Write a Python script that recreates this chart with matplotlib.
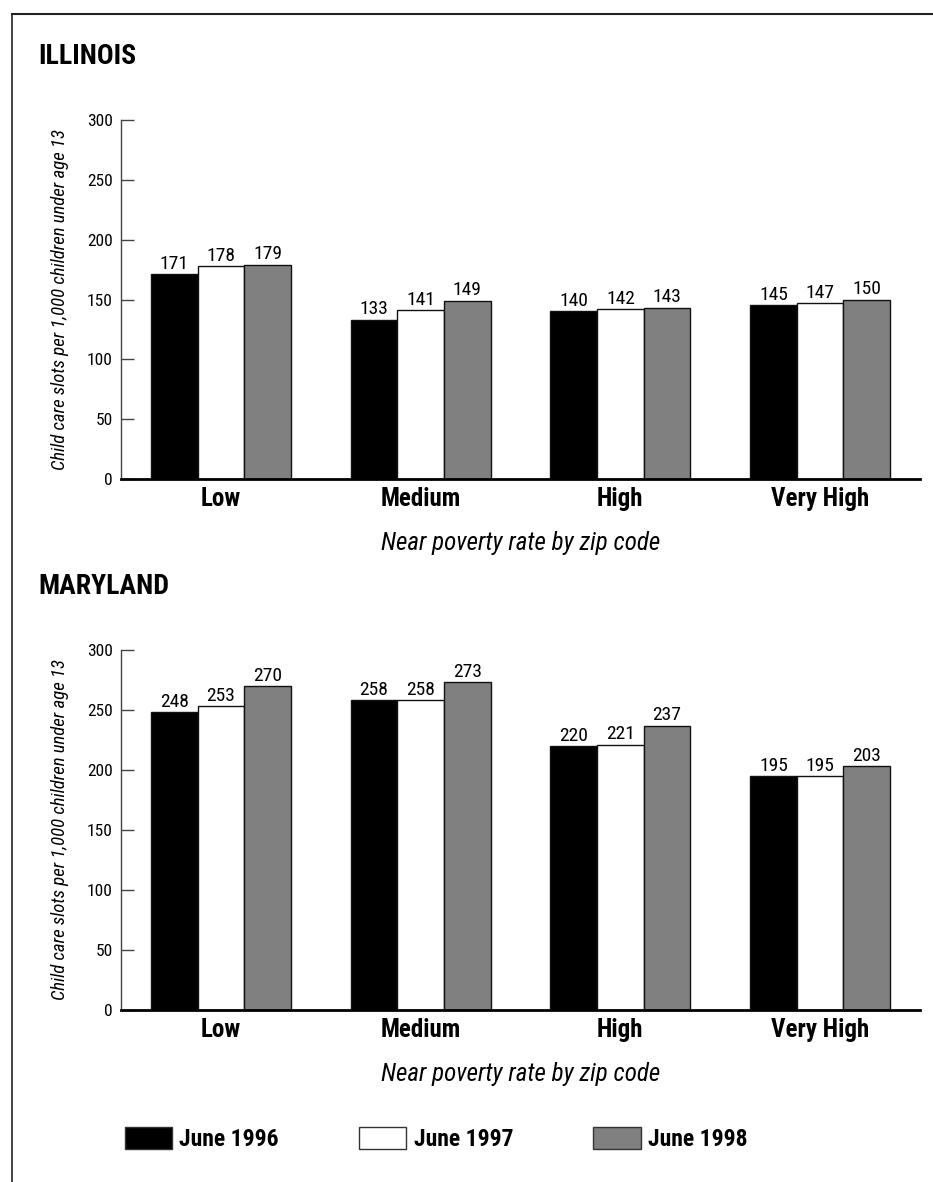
import numpy as np
import matplotlib
matplotlib.use("Agg")
import matplotlib.pyplot as plt
from matplotlib import font_manager
from matplotlib.lines import Line2D
from matplotlib.patches import Patch

# pick a condensed sans if one is around
fonts = font_manager.fontManager.ttflist
names = {f.name for f in fonts}
stretch = "normal"
family = "DejaVu Sans"
for cand in ["Liberation Sans Narrow", "Roboto Condensed", "Open Sans Condensed",
             "DejaVu Sans Condensed", "Noto Sans Condensed"]:
    if cand in names:
        family = cand
        break
else:
    narrow = [f for f in fonts if str(f.stretch) in ("condensed", "semi-condensed", "extra-condensed")
              or (isinstance(f.stretch, int) and f.stretch < 500)]
    if narrow:
        family = narrow[0].name
        stretch = "condensed"
plt.rcParams["font.family"] = [family, "DejaVu Sans"]
plt.rcParams["font.stretch"] = stretch

categories = ["Low", "Medium", "High", "Very High"]
series_names = ["June 1996", "June 1997", "June 1998"]
series_colors = ["#000000", "#ffffff", "#808080"]

illinois_1996 = [171, 133, 140, 145]
illinois_1997 = [178, 141, 142, 147]
illinois_1998 = [179, 149, 143, 150]

maryland_1996 = [248, 258, 220, 195]
maryland_1997 = [253, 258, 221, 195]
maryland_1998 = [270, 273, 237, 203]

W, H = 933, 1182
fig = plt.figure(figsize=(W / 100, H / 100), dpi=100)


def px_axes(left, top, right, bottom):
    return fig.add_axes([left / W, 1 - bottom / H, (right - left) / W, (bottom - top) / H])


def draw_state(ax, title, title_y, values):
    x = np.arange(len(categories)) + 0.5
    width = 0.7 / 3
    for i, vals in enumerate(values):
        bars = ax.bar(x + (i - 1) * width, vals, width, color=series_colors[i],
                      edgecolor="#111111", linewidth=1.0, zorder=2)
        ax.bar_label(bars, padding=1, fontsize=14)
    ax.set_xlim(0, len(categories))
    ax.set_ylim(0, 300)
    ax.set_yticks(range(0, 301, 50))
    ax.set_xticks(x)
    ax.set_xticklabels(categories, fontsize=18, fontweight="bold")
    ax.tick_params(axis="x", length=0, pad=6)
    ax.tick_params(axis="y", direction="in", length=9, width=1, color="#444444",
                   labelsize=12.5, pad=6)
    for side in ("top", "right"):
        ax.spines[side].set_visible(False)
    ax.spines["left"].set_color("#444444")
    ax.spines["left"].set_linewidth(1.0)
    ax.spines["bottom"].set_linewidth(2.0)
    ax.spines["bottom"].set_zorder(3)
    ax.set_ylabel("Child care slots per 1,000 children under age 13",
                  fontsize=13.5, style="italic", va="center")
    ax.yaxis.set_label_coords(-0.076, 0.5)
    ax.set_xlabel("Near poverty rate by zip code", fontsize=18, style="italic",
                  labelpad=14)
    fig.text(38 / W, 1 - title_y / H, title, fontsize=20, fontweight="bold",
             va="center", ha="left")


ax1 = px_axes(121, 120, 920, 479)
draw_state(ax1, "ILLINOIS", 56, [illinois_1996, illinois_1997, illinois_1998])

ax2 = px_axes(121, 650, 920, 1010)
draw_state(ax2, "MARYLAND", 586, [maryland_1996, maryland_1997, maryland_1998])

handles = [Patch(facecolor=c, edgecolor="#333333", linewidth=1.0) for c in series_colors]
fig.legend(handles, series_names, ncol=3, loc="center left",
           bbox_to_anchor=(125 / W, 1 - 1139 / H), frameon=False,
           prop={"size": 17, "weight": "bold"}, handlelength=2.0, handleheight=1.1,
           handletextpad=0.3, columnspacing=3.4, borderpad=0, borderaxespad=0)

# page frame on the top and left edges
fig.add_artist(Line2D([12 / W, 12 / W], [0, 1 - 14 / H], color="#222222", linewidth=1.2))
fig.add_artist(Line2D([12 / W, 1], [1 - 14 / H, 1 - 14 / H], color="#222222", linewidth=1.5))

fig.savefig("out.png", dpi=100)
